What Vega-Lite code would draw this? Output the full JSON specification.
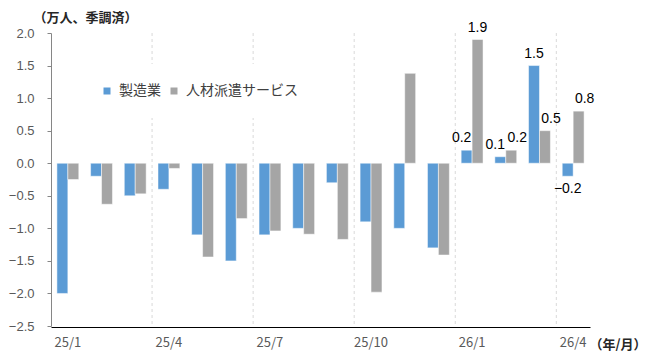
{
  "$schema": "https://vega.github.io/schema/vega-lite/v6.json",
  "width": 539,
  "height": 293,
  "autosize": "none",
  "padding": {"left": 51, "top": 33, "right": 57, "bottom": 25},
  "config": {
    "view": {"stroke": null},
    "font": "Noto Sans CJK JP",
    "axisX": {
      "labelAngle": 0, "ticks": false, "grid": false, "domainColor": "#000000", "domainWidth": 1, "offset": 1,
      "labelFontSize": 13, "labelColor": "#595959", "labelPadding": 9, "labelFont": "Noto Sans CJK JP",
      "titleFont": "Noto Sans CJK JP", "titleFontSize": 13, "titleFontWeight": "bold", "titleColor": "#262626",
      "titleX": 595, "titleY": 17, "titleAlign": "right", "titleBaseline": "middle", "titleAnchor": null
    },
    "axisY": {
      "grid": false, "domainColor": "#868686", "tickColor": "#868686", "tickSize": 4, "labelPadding": 13,
      "labelFontSize": 13, "labelColor": "#595959", "labelFont": "Liberation Sans",
      "titleAngle": 0, "titleX": -18, "titleY": -12, "titleAlign": "left", "titleBaseline": "alphabetic",
      "titleFontSize": 13, "titleFontWeight": "bold", "titleColor": "#262626"
    },
    "text": {"fontSize": 14, "font": "Liberation Sans", "color": "#000000"}
  },
  "datasets": {
    "jobs": [
      {"m": "25/1", "s": "製造業", "v": -2.0}, {"m": "25/1", "s": "人材派遣サービス", "v": -0.25},
      {"m": "25/2", "s": "製造業", "v": -0.2}, {"m": "25/2", "s": "人材派遣サービス", "v": -0.63},
      {"m": "25/3", "s": "製造業", "v": -0.5}, {"m": "25/3", "s": "人材派遣サービス", "v": -0.47},
      {"m": "25/4", "s": "製造業", "v": -0.4}, {"m": "25/4", "s": "人材派遣サービス", "v": -0.08},
      {"m": "25/5", "s": "製造業", "v": -1.1}, {"m": "25/5", "s": "人材派遣サービス", "v": -1.44},
      {"m": "25/6", "s": "製造業", "v": -1.5}, {"m": "25/6", "s": "人材派遣サービス", "v": -0.85},
      {"m": "25/7", "s": "製造業", "v": -1.1}, {"m": "25/7", "s": "人材派遣サービス", "v": -1.04},
      {"m": "25/8", "s": "製造業", "v": -1.0}, {"m": "25/8", "s": "人材派遣サービス", "v": -1.09},
      {"m": "25/9", "s": "製造業", "v": -0.3}, {"m": "25/9", "s": "人材派遣サービス", "v": -1.17},
      {"m": "25/10", "s": "製造業", "v": -0.9}, {"m": "25/10", "s": "人材派遣サービス", "v": -1.98},
      {"m": "25/11", "s": "製造業", "v": -1.0}, {"m": "25/11", "s": "人材派遣サービス", "v": 1.38},
      {"m": "25/12", "s": "製造業", "v": -1.3}, {"m": "25/12", "s": "人材派遣サービス", "v": -1.41},
      {"m": "26/1", "s": "製造業", "v": 0.2}, {"m": "26/1", "s": "人材派遣サービス", "v": 1.9},
      {"m": "26/2", "s": "製造業", "v": 0.1}, {"m": "26/2", "s": "人材派遣サービス", "v": 0.2},
      {"m": "26/3", "s": "製造業", "v": 1.5}, {"m": "26/3", "s": "人材派遣サービス", "v": 0.5},
      {"m": "26/4", "s": "製造業", "v": -0.2}, {"m": "26/4", "s": "人材派遣サービス", "v": 0.8}
    ],
    "quarters": [{"m": "25/4"}, {"m": "25/7"}, {"m": "25/10"}, {"m": "26/1"}, {"m": "26/4"}]
  },
  "layer": [
    {
      "data": {"name": "quarters"},
      "mark": {"type": "rule", "color": "#d9d9d9", "strokeDash": [3, 3], "strokeWidth": 1},
      "encoding": {
        "x": {"field": "m", "type": "nominal", "bandPosition": 0,
              "scale": {"domain": ["25/1","25/2","25/3","25/4","25/5","25/6","25/7","25/8","25/9","25/10","25/11","25/12","26/1","26/2","26/3","26/4"], "paddingInner": 0, "paddingOuter": 0},
              "axis": {"values": ["25/1","25/4","25/7","25/10","26/1","26/4"], "title": "（年/月）"}}
      }
    },
    {
      "data": {"name": "jobs"},
      "mark": {"type": "bar", "stroke": "white", "strokeWidth": 0.5},
      "encoding": {
        "x": {"field": "m", "type": "nominal",
              "axis": {"values": ["25/1","25/4","25/7","25/10","26/1","26/4"], "title": "（年/月）"}},
        "xOffset": {"field": "s", "type": "nominal", "sort": ["製造業", "人材派遣サービス"],
                    "scale": {"paddingInner": 0, "paddingOuter": 0.54}},
        "y": {"field": "v", "type": "quantitative",
              "scale": {"domain": [-2.5, 2.0], "nice": false, "zero": false},
              "axis": {"values": [-2.5, -2.0, -1.5, -1.0, -0.5, 0, 0.5, 1.0, 1.5, 2.0], "format": ".1f", "title": "（万人、季調済）"}},
        "color": {"field": "s", "type": "nominal", "sort": ["製造業", "人材派遣サービス"],
                  "scale": {"domain": ["製造業", "人材派遣サービス"], "range": ["#5B9BD5", "#A5A5A5"]},
                  "legend": {"orient": "none", "legendX": 29, "legendY": 31, "direction": "horizontal", "title": null,
                             "fillColor": "white", "padding": 20, "symbolType": "square", "symbolSize": 49, "symbolStrokeWidth": 0,
                             "labelFontSize": 14, "labelColor": "#404040", "labelOffset": 5, "columnPadding": 6}}
      }
    },
    {
      "mark": {"type": "rule", "color": "#000000", "strokeWidth": 1},
      "encoding": {"y": {"datum": 0, "type": "quantitative",
                         "axis": {"values": [-2.5, -2.0, -1.5, -1.0, -0.5, 0, 0.5, 1.0, 1.5, 2.0], "format": ".1f", "title": "（万人、季調済）"}}}
    },
    {
      "data": {"name": "jobs"},
      "transform": [{"filter": {"field": "m", "oneOf": ["26/1", "26/2", "26/3", "26/4"]}}, {"filter": "datum.v >= 1"}],
      "mark": {"type": "text", "baseline": "bottom", "dy": -5},
      "encoding": {
        "x": {"field": "m", "type": "nominal", "axis": {"values": ["25/1","25/4","25/7","25/10","26/1","26/4"], "title": "（年/月）"}},
        "xOffset": {"field": "s", "type": "nominal", "sort": ["製造業", "人材派遣サービス"]},
        "y": {"field": "v", "type": "quantitative", "axis": {"values": [-2.5, -2.0, -1.5, -1.0, -0.5, 0, 0.5, 1.0, 1.5, 2.0], "format": ".1f", "title": "（万人、季調済）"}},
        "text": {"field": "v", "type": "quantitative", "format": ".1f"}
      }
    },
    {
      "data": {"name": "jobs"},
      "transform": [{"filter": {"field": "m", "oneOf": ["26/1", "26/2", "26/3", "26/4"]}}, {"filter": "datum.v >= 0 && datum.v < 1 && datum.s === '製造業'"}],
      "mark": {"type": "text", "baseline": "bottom", "dy": -5, "dx": -5},
      "encoding": {
        "x": {"field": "m", "type": "nominal", "axis": {"values": ["25/1","25/4","25/7","25/10","26/1","26/4"], "title": "（年/月）"}},
        "xOffset": {"field": "s", "type": "nominal", "sort": ["製造業", "人材派遣サービス"]},
        "y": {"field": "v", "type": "quantitative", "axis": {"values": [-2.5, -2.0, -1.5, -1.0, -0.5, 0, 0.5, 1.0, 1.5, 2.0], "format": ".1f", "title": "（万人、季調済）"}},
        "text": {"field": "v", "type": "quantitative", "format": ".1f"}
      }
    },
    {
      "data": {"name": "jobs"},
      "transform": [{"filter": {"field": "m", "oneOf": ["26/1", "26/2", "26/3", "26/4"]}}, {"filter": "datum.v >= 0 && datum.v < 1 && datum.s !== '製造業'"}],
      "mark": {"type": "text", "baseline": "bottom", "dy": -5, "dx": 6},
      "encoding": {
        "x": {"field": "m", "type": "nominal", "axis": {"values": ["25/1","25/4","25/7","25/10","26/1","26/4"], "title": "（年/月）"}},
        "xOffset": {"field": "s", "type": "nominal", "sort": ["製造業", "人材派遣サービス"]},
        "y": {"field": "v", "type": "quantitative", "axis": {"values": [-2.5, -2.0, -1.5, -1.0, -0.5, 0, 0.5, 1.0, 1.5, 2.0], "format": ".1f", "title": "（万人、季調済）"}},
        "text": {"field": "v", "type": "quantitative", "format": ".1f"}
      }
    },
    {
      "data": {"name": "jobs"},
      "transform": [{"filter": {"field": "m", "oneOf": ["26/1", "26/2", "26/3", "26/4"]}}, {"filter": "datum.v < 0"}],
      "mark": {"type": "text", "baseline": "top", "dy": 6},
      "encoding": {
        "x": {"field": "m", "type": "nominal", "axis": {"values": ["25/1","25/4","25/7","25/10","26/1","26/4"], "title": "（年/月）"}},
        "xOffset": {"field": "s", "type": "nominal", "sort": ["製造業", "人材派遣サービス"]},
        "y": {"field": "v", "type": "quantitative", "axis": {"values": [-2.5, -2.0, -1.5, -1.0, -0.5, 0, 0.5, 1.0, 1.5, 2.0], "format": ".1f", "title": "（万人、季調済）"}},
        "text": {"field": "v", "type": "quantitative", "format": ".1f"}
      }
    }
  ]
}
